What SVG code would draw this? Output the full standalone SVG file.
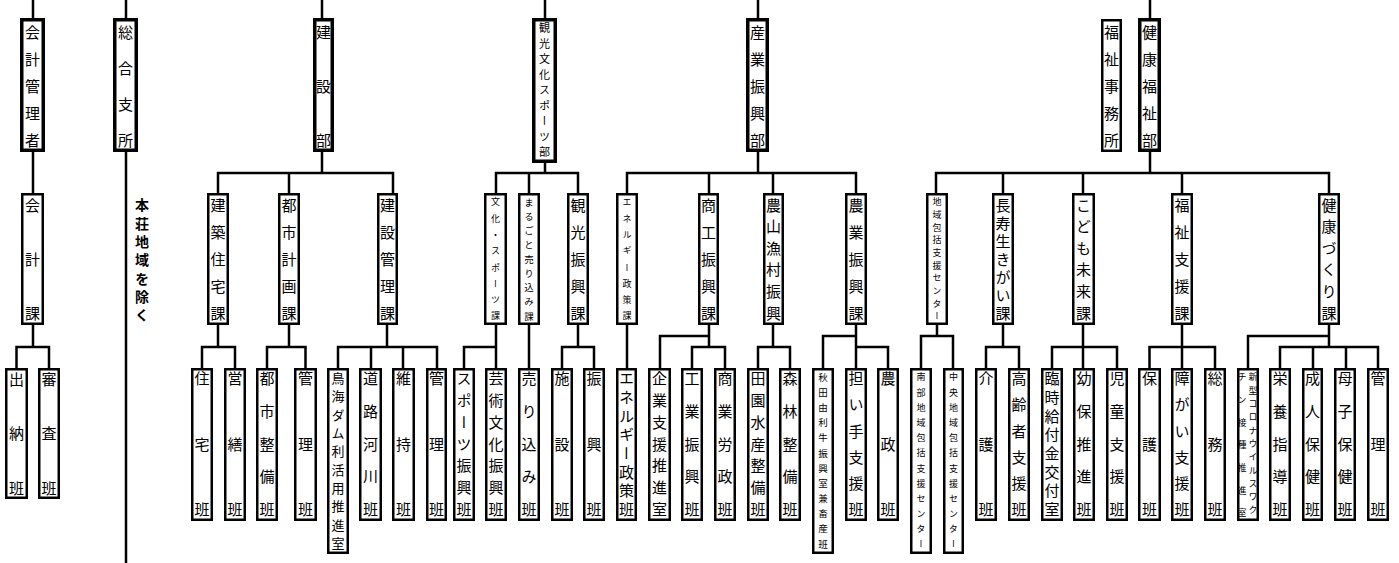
<svg xmlns="http://www.w3.org/2000/svg" width="1399" height="563" viewBox="0 0 1399 563">
<style>
.k{fill:#fff;stroke:#000;stroke-width:3.5}
.b{fill:#fff;stroke:#000;stroke-width:2.5}
.c{fill:none;stroke:#000;stroke-width:2.5}
text{font-family:"Noto Sans CJK JP","Noto Sans CJK SC",sans-serif;writing-mode:vertical-rl;text-anchor:middle;fill:#000}
.L{font-size:15px}
.M{font-size:11px}
.R{font-size:13px}
.S{font-size:9.5px}
.X{font-size:9px}
.B{font-size:14px;font-weight:bold}
</style>
<rect width="1399" height="563" fill="#fff"/>
<g id="connectors">
<path class="c" d="M33 0V20 M126 0V20 M322 0V20 M545 0V20 M758 0V20 M1150 0V20"/>
<path class="c" d="M33 150V194 M33 324V347 M16.5 369V347H49V369"/>
<path class="c" d="M126 150V563"/>
<path class="c" d="M322 150V173 M218 194V173H393V194 M289 173V194"/>
<path class="c" d="M218 324V347 M202 369V347H235V369 M289 324V347 M267 369V347H305.5V369 M387 324V347 M338 369V347H437V369 M371 347V369 M403 347V369"/>
<path class="c" d="M545 161V173 M496 194V173H578V194 M529 173V194"/>
<path class="c" d="M496 324V369 M464 369V347H496 M529 324V369 M578 324V347 M562 369V347H594V369"/>
<path class="c" d="M758 150V173 M627 194V173H856V194 M709 173V194 M773 173V194"/>
<path class="c" d="M627 324V369 M709 324V347 M660 369V336H709 M692 369V347H725V369 M773 324V347 M758 369V347H790V369 M856 324V369 M823 369V336H856 M856 347H888V369"/>
<path class="c" d="M1150 150V173 M936 194V173H1329V194 M1003 173V194 M1083 173V194 M1182 173V194"/>
<path class="c" d="M937 324V336 M921 369V336H953V369 M1003 324V347 M986 369V347H1019V369 M1083 324V369 M1052 369V347H1117V369 M1182 324V369 M1149.5 369V347H1215V369 M1329 324V347 M1248 369V336H1329 M1280 369V347H1378V369 M1313 347V369 M1346 347V369"/>
</g>
<g id="kaikei-kanrisha"><rect class="k" x="21.75" y="19.75" width="21.5" height="130.5"/><text class="L" x="32.5" y="32 59 86 113 140">会計管理者</text></g>
<g id="sogo-shisho"><rect class="k" x="114.75" y="19.75" width="21.5" height="130.5"/><text class="L" x="125.5" y="32 68 104 140">総合支所</text></g>
<g id="honjo-note"><text class="B" x="142" y="205 223.3 241.7 260 278.3 296.7 315">本荘地域を除く</text></g>
<g id="kensetsu-bu"><rect class="k" x="314.75" y="19.75" width="17.5" height="130.5"/><text class="L" x="323.5" y="32 86 140">建設部</text></g>
<g id="kanko-bu"><rect class="k" x="533.75" y="19.75" width="21.5" height="141.5"/><text class="M" x="544.5" y="28 43.5 59 74.5 90 105.5 121 136.5 152">観光文化スポーツ部</text></g>
<g id="sangyo-bu"><rect class="k" x="747.75" y="19.75" width="19.5" height="130.5"/><text class="L" x="757.5" y="32 59 86 113 140">産業振興部</text></g>
<g id="fukushi-jimusho"><rect class="b" x="1102.25" y="20.25" width="18.5" height="130.5"/><text class="L" x="1111.5" y="32 59 86 113 140">福祉事務所</text></g>
<g id="kenko-bu"><rect class="k" x="1139.75" y="19.75" width="19.5" height="130.5"/><text class="L" x="1149.5" y="32 59 86 113 140">健康福祉部</text></g>

<g id="kaikei-ka"><rect class="b" x="22.25" y="194.25" width="20.5" height="129.5"/><text class="L" x="32.5" y="205 259 313">会計課</text></g>
<g id="kenchiku-ka"><rect class="b" x="208.25" y="194.25" width="19.5" height="129.5"/><text class="L" x="218" y="205 232 259 286 313">建築住宅課</text></g>
<g id="toshi-ka"><rect class="b" x="279.25" y="194.25" width="19.5" height="129.5"/><text class="L" x="289" y="205 232 259 286 313">都市計画課</text></g>
<g id="kensetsukanri-ka"><rect class="b" x="378.25" y="194.25" width="18.5" height="129.5"/><text class="L" x="387.5" y="205 232 259 286 313">建設管理課</text></g>
<g id="bunka-ka"><rect class="b" x="485.25" y="194.25" width="20.5" height="129.5"/><text class="X" x="495.5" y="202 218.3 234.6 250.9 267.1 283.4 299.7 316">文化・スポーツ課</text></g>
<g id="marugoto-ka"><rect class="b" x="519.25" y="194.25" width="19.5" height="129.5"/><text class="S" x="529" y="202 216.25 230.5 244.75 259 273.25 287.5 301.75 316">まるごと売り込み課</text></g>
<g id="kanko-ka"><rect class="b" x="568.25" y="194.25" width="19.5" height="129.5"/><text class="L" x="578" y="205 232 259 286 313">観光振興課</text></g>
<g id="energy-ka"><rect class="b" x="617.25" y="194.25" width="19.5" height="129.5"/><text class="X" x="627" y="202 218.3 234.6 250.9 267.1 283.4 299.7 316">エネルギー政策課</text></g>
<g id="shoko-ka"><rect class="b" x="699.25" y="194.25" width="18.5" height="129.5"/><text class="L" x="708.5" y="205 232 259 286 313">商工振興課</text></g>
<g id="nosan-ka"><rect class="b" x="764.25" y="194.25" width="18.5" height="129.5"/><text class="L" x="773.5" y="205 226.6 248.2 269.8 291.4 313">農山漁村振興</text></g>
<g id="nogyo-ka"><rect class="b" x="846.25" y="194.25" width="19.5" height="129.5"/><text class="L" x="856" y="205 232 259 286 313">農業振興課</text></g>
<g id="chiiki-center"><rect class="b" x="927.25" y="194.25" width="19.5" height="129.5"/><text class="X" x="937" y="202 214.7 227.3 240 252.7 265.3 278 290.7 303.3 316">地域包括支援センター</text></g>
<g id="chouju-ka"><rect class="b" x="993.25" y="194.25" width="19.5" height="129.5"/><text class="L" x="1003" y="205 223 241 259 277 295 313">長寿生きがい課</text></g>
<g id="kodomo-ka"><rect class="b" x="1073.25" y="194.25" width="20.5" height="129.5"/><text class="L" x="1083.5" y="205 226.6 248.2 269.8 291.4 313">こども未来課</text></g>
<g id="fukushishien-ka"><rect class="b" x="1172.25" y="194.25" width="19.5" height="129.5"/><text class="L" x="1182" y="205 232 259 286 313">福祉支援課</text></g>
<g id="kenkozukuri-ka"><rect class="b" x="1319.25" y="194.25" width="19.5" height="129.5"/><text class="L" x="1329" y="205 226.6 248.2 269.8 291.4 313">健康づくり課</text></g>

<g id="suito-han"><rect class="b" x="6.25" y="369.25" width="20.5" height="128.5"/><text class="L" x="16.5" y="379 433.5 488">出納班</text></g>
<g id="shinsa-han"><rect class="b" x="39.25" y="369.25" width="19.5" height="128.5"/><text class="L" x="49" y="379 433.5 488">審査班</text></g>
<g id="jutaku-han"><rect class="b" x="192.25" y="369.25" width="19.5" height="150.5"/><text class="L" x="202" y="378.5 444 509.5">住宅班</text></g>
<g id="eizen-han"><rect class="b" x="225.25" y="369.25" width="19.5" height="150.5"/><text class="L" x="235" y="378.5 444 509.5">営繕班</text></g>
<g id="toshiseibi-han"><rect class="b" x="257.25" y="369.25" width="19.5" height="150.5"/><text class="L" x="267" y="378.5 411.25 444 476.75 509.5">都市整備班</text></g>
<g id="kanri-han-1"><rect class="b" x="295.25" y="369.25" width="20.5" height="150.5"/><text class="L" x="305.5" y="378.5 444 509.5">管理班</text></g>
<g id="chokai-dam"><rect class="b" x="328.25" y="369.25" width="19.5" height="183.5"/><text class="R" x="338" y="378 396.3 414.7 433 451.3 469.7 488 506.3 524.7 543">鳥海ダム利活用推進室</text></g>
<g id="doro-han"><rect class="b" x="360.25" y="369.25" width="20.5" height="150.5"/><text class="L" x="370.5" y="378.5 411.25 444 476.75 509.5">道路河川班</text></g>
<g id="iji-han"><rect class="b" x="393.25" y="369.25" width="20.5" height="150.5"/><text class="L" x="403.5" y="378.5 444 509.5">維持班</text></g>
<g id="kanri-han-2"><rect class="b" x="427.25" y="369.25" width="18.5" height="150.5"/><text class="L" x="436.5" y="378.5 444 509.5">管理班</text></g>
<g id="sports-han"><rect class="b" x="454.25" y="369.25" width="19.5" height="150.5"/><text class="L" x="464" y="378.5 400.3 422.2 444 465.8 487.7 509.5">スポーツ振興班</text></g>
<g id="geijutsu-han"><rect class="b" x="486.25" y="369.25" width="19.5" height="150.5"/><text class="L" x="496" y="378.5 400.3 422.2 444 465.8 487.7 509.5">芸術文化振興班</text></g>
<g id="urikomi-han"><rect class="b" x="519.25" y="369.25" width="19.5" height="150.5"/><text class="L" x="529" y="378.5 411.25 444 476.75 509.5">売り込み班</text></g>
<g id="shisetsu-han"><rect class="b" x="552.25" y="369.25" width="19.5" height="150.5"/><text class="L" x="562" y="378.5 444 509.5">施設班</text></g>
<g id="shinko-han"><rect class="b" x="584.25" y="369.25" width="19.5" height="150.5"/><text class="L" x="594" y="378.5 444 509.5">振興班</text></g>
<g id="energy-han"><rect class="b" x="617.25" y="369.25" width="18.5" height="150.5"/><text class="L" x="626.5" y="378.5 397.2 415.9 434.6 453.4 472.1 490.8 509.5">エネルギー政策班</text></g>
<g id="kigyo-shitsu"><rect class="b" x="649.25" y="369.25" width="20.5" height="150.5"/><text class="L" x="659.5" y="378.5 400.3 422.2 444 465.8 487.7 509.5">企業支援推進室</text></g>
<g id="kogyo-han"><rect class="b" x="682.25" y="369.25" width="19.5" height="150.5"/><text class="L" x="692" y="378.5 411.25 444 476.75 509.5">工業振興班</text></g>
<g id="shogyo-han"><rect class="b" x="715.25" y="369.25" width="19.5" height="150.5"/><text class="L" x="725" y="378.5 411.25 444 476.75 509.5">商業労政班</text></g>
<g id="denen-han"><rect class="b" x="748.25" y="369.25" width="19.5" height="150.5"/><text class="L" x="758" y="378.5 400.3 422.2 444 465.8 487.7 509.5">田園水産整備班</text></g>
<g id="shinrin-han"><rect class="b" x="780.25" y="369.25" width="19.5" height="150.5"/><text class="L" x="790" y="378.5 411.25 444 476.75 509.5">森林整備班</text></g>
<g id="akita-yurigyu"><rect class="b" x="813.25" y="369.25" width="19.5" height="183.5"/><text class="S" x="823" y="377 392.2 407.4 422.5 437.7 452.9 468.1 483.3 498.5 513.6 528.8 544">秋田由利牛振興室兼畜産班</text></g>
<g id="ninaite-han"><rect class="b" x="846.25" y="369.25" width="19.5" height="150.5"/><text class="L" x="856" y="378.5 404.7 430.9 457.1 483.3 509.5">担い手支援班</text></g>
<g id="nosei-han"><rect class="b" x="878.25" y="369.25" width="19.5" height="150.5"/><text class="L" x="888" y="378.5 444 509.5">農政班</text></g>
<g id="nanbu-center"><rect class="b" x="911.25" y="369.25" width="19.5" height="183.5"/><text class="X" x="921" y="377 392.2 407.4 422.5 437.7 452.9 468.1 483.3 498.5 513.6 528.8 544">南部地域包括支援センター</text></g>
<g id="chuo-center"><rect class="b" x="944.25" y="369.25" width="18.5" height="183.5"/><text class="X" x="953.5" y="377 392.2 407.4 422.5 437.7 452.9 468.1 483.3 498.5 513.6 528.8 544">中央地域包括支援センター</text></g>
<g id="kaigo-han"><rect class="b" x="976.25" y="369.25" width="19.5" height="150.5"/><text class="L" x="986" y="378.5 444 509.5">介護班</text></g>
<g id="koreisha-han"><rect class="b" x="1009.25" y="369.25" width="19.5" height="150.5"/><text class="L" x="1019" y="378.5 404.7 430.9 457.1 483.3 509.5">高齢者支援班</text></g>
<g id="rinji-shitsu"><rect class="b" x="1042.25" y="369.25" width="19.5" height="150.5"/><text class="L" x="1052" y="378.5 397.2 415.9 434.6 453.4 472.1 490.8 509.5">臨時給付金交付室</text></g>
<g id="yoho-han"><rect class="b" x="1074.25" y="369.25" width="19.5" height="150.5"/><text class="L" x="1084" y="378.5 411.25 444 476.75 509.5">幼保推進班</text></g>
<g id="jido-han"><rect class="b" x="1107.25" y="369.25" width="19.5" height="150.5"/><text class="L" x="1117" y="378.5 411.25 444 476.75 509.5">児童支援班</text></g>
<g id="hogo-han"><rect class="b" x="1139.25" y="369.25" width="20.5" height="150.5"/><text class="L" x="1149.5" y="378.5 444 509.5">保護班</text></g>
<g id="shogai-han"><rect class="b" x="1172.25" y="369.25" width="19.5" height="150.5"/><text class="L" x="1182" y="378.5 404.7 430.9 457.1 483.3 509.5">障がい支援班</text></g>
<g id="somu-han"><rect class="b" x="1205.25" y="369.25" width="19.5" height="150.5"/><text class="L" x="1215" y="378.5 444 509.5">総務班</text></g>
<g id="vaccine-shitsu"><rect class="b" x="1238.25" y="369.25" width="19.5" height="150.5"/><text class="X" x="1253 1253 1253 1253 1253 1253 1253 1253 1253 1253 1253 1242 1242 1242 1242 1242 1242 1242" y="377 390.3 403.6 416.9 430.2 443.5 456.8 470.1 483.4 496.7 510 377 399.7 422.3 445 467.7 490.3 513">新型コロナウイルスワクチン接種推進室</text></g>
<g id="eiyo-han"><rect class="b" x="1270.25" y="369.25" width="19.5" height="150.5"/><text class="L" x="1280" y="378.5 411.25 444 476.75 509.5">栄養指導班</text></g>
<g id="seijin-han"><rect class="b" x="1303.25" y="369.25" width="18.5" height="150.5"/><text class="L" x="1312.5" y="378.5 411.25 444 476.75 509.5">成人保健班</text></g>
<g id="boshi-han"><rect class="b" x="1335.25" y="369.25" width="19.5" height="150.5"/><text class="L" x="1345" y="378.5 411.25 444 476.75 509.5">母子保健班</text></g>
<g id="kanri-han-3"><rect class="b" x="1368.25" y="369.25" width="19.5" height="150.5"/><text class="L" x="1378" y="378.5 444 509.5">管理班</text></g>
</svg>
